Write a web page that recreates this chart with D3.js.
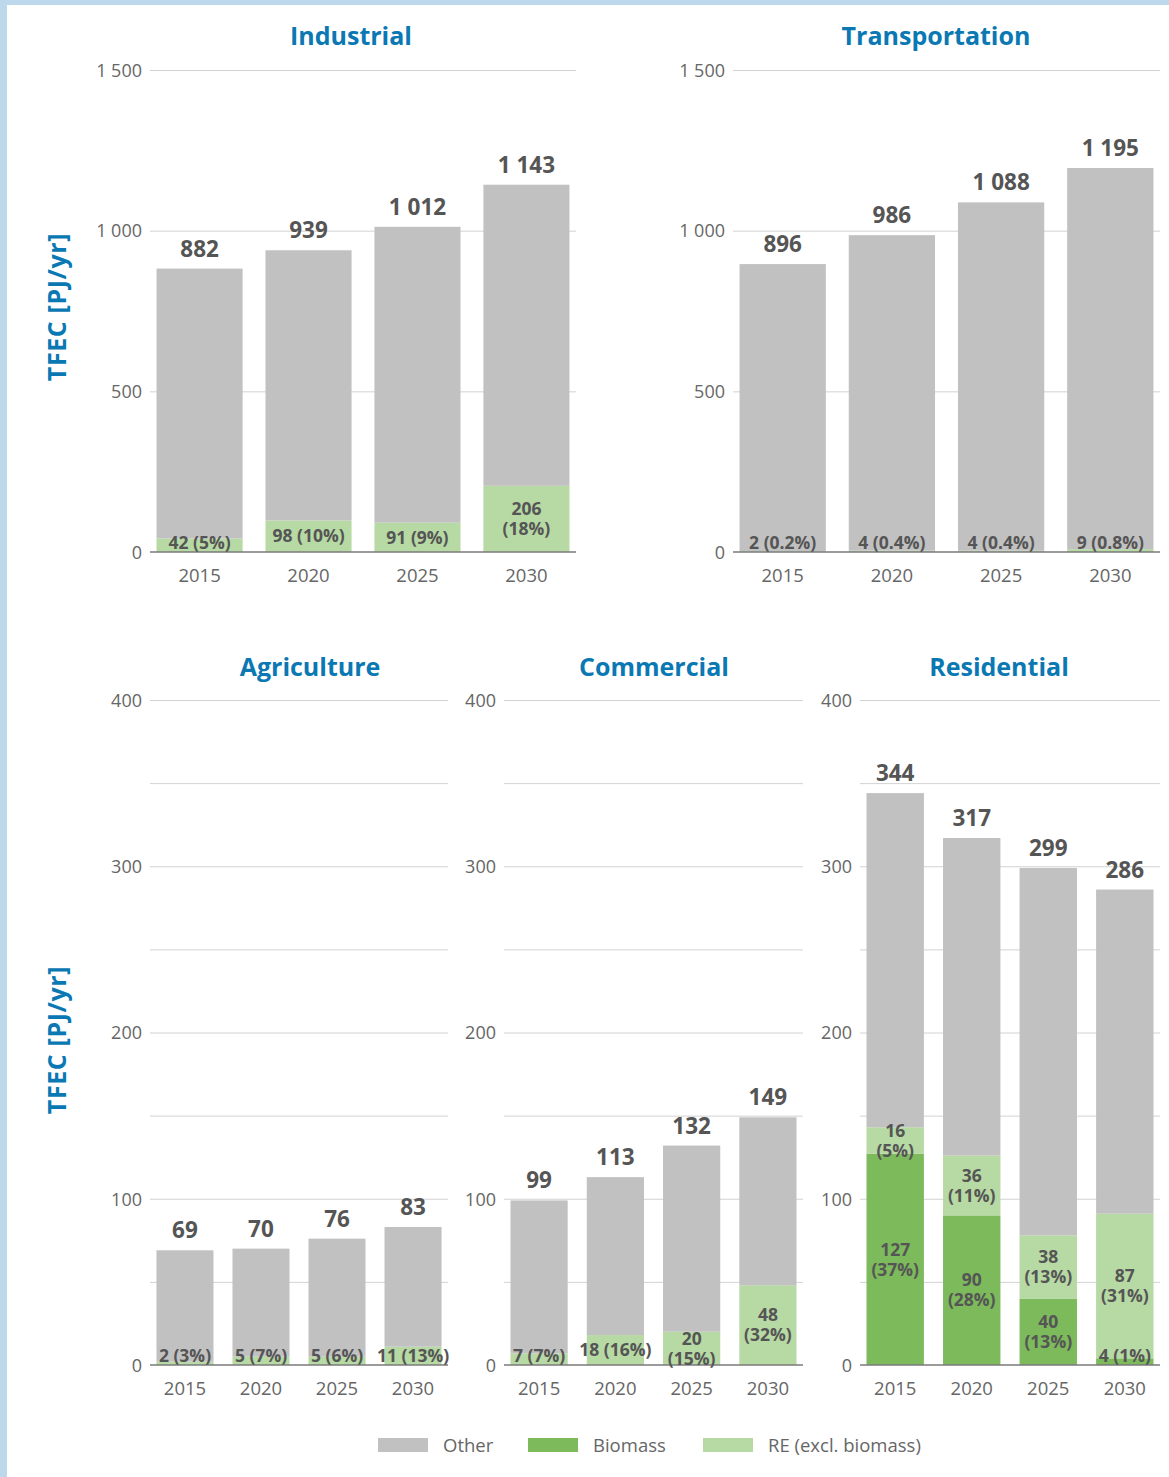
<!DOCTYPE html>
<html><head><meta charset="utf-8">
<script src="https://cdn.jsdelivr.net/npm/d3@7"></script>
<style>
html,body{margin:0;padding:0;background:#fff;}
svg{display:block;font-family:"Open Sans",sans-serif;}
</style></head>
<body>
<svg id="chart" width="1169" height="1477"></svg>
<script>
// ---------------- data ----------------
const years = ["2015", "2020", "2025", "2030"];

const industrialTotal = [882, 939, 1012, 1143];
const industrialRE = [42, 98, 91, 206];
const industrialREPct = ["5%", "10%", "9%", "18%"];

const transportTotal = [896, 986, 1088, 1195];
const transportRE = [2, 4, 4, 9];
const transportREPct = ["0.2%", "0.4%", "0.4%", "0.8%"];

const agricultureTotal = [69, 70, 76, 83];
const agricultureRE = [2, 5, 5, 11];
const agricultureREPct = ["3%", "7%", "6%", "13%"];

const commercialTotal = [99, 113, 132, 149];
const commercialRE = [7, 18, 20, 48];
const commercialREPct = ["7%", "16%", "15%", "32%"];

const residentialTotal = [344, 317, 299, 286];
const residentialBiomass = [127, 90, 40, 4];
const residentialBiomassPct = ["37%", "28%", "13%", "1%"];
const residentialRE = [16, 36, 38, 87];
const residentialREPct = ["5%", "11%", "13%", "31%"];

const topTicks = [0, 500, 1000, 1500];
const bottomTicks = [0, 100, 200, 300, 400];
const bottomGrid = [0, 50, 100, 150, 200, 250, 300, 350, 400];

const legendItems = ["Other", "Biomass", "RE (excl. biomass)"];

// ---------------- style ----------------
const COLORS = {"Other": "#c1c1c1", "Biomass": "#7cba5c", "RE (excl. biomass)": "#b7d9a4"};
const BLUE = "#0a78b3";

const fmt = v => { const s = String(v); return s.length > 3 ? s.slice(0, s.length - 3) + " " + s.slice(-3) : s; };

const svg = d3.select("#chart");

// frame
svg.append("rect").attr("x", 0).attr("y", 0).attr("width", 1169).attr("height", 5).attr("fill", "#bdd7eb");
svg.append("rect").attr("x", 0).attr("y", 0).attr("width", 7).attr("height", 1477).attr("fill", "#bdd7eb");

function panel(cfg) {
  const rows = years.map((y, i) => {
    const bio = cfg.biomass ? cfg.biomass[i] : 0;
    const re = cfg.re[i];
    return {year: y, "Biomass": bio, "RE (excl. biomass)": re, "Other": cfg.total[i] - bio - re,
            total: cfg.total[i], bioPct: cfg.biomassPct ? cfg.biomassPct[i] : null, rePct: cfg.rePct[i]};
  });
  const keys = ["Biomass", "RE (excl. biomass)", "Other"];
  const stack = d3.stack().keys(keys)(rows);

  const x = d3.scaleBand().domain(years).range([cfg.x0, cfg.x1]).paddingInner(cfg.pi).paddingOuter(cfg.po);
  const y = d3.scaleLinear().domain([0, cfg.max]).range([cfg.yb, cfg.yt]);
  const g = svg.append("g");

  // grid
  g.selectAll("line.grid").data(cfg.grid.filter(d => d !== 0)).join("line")
    .attr("x1", cfg.x0).attr("x2", cfg.x1)
    .attr("y1", d => y(d) + 0.5).attr("y2", d => y(d) + 0.5)
    .attr("stroke", "#d2d2d2").attr("stroke-width", 1);

  // y tick labels
  const yAxis = d3.axisLeft(y).tickValues(cfg.ticks).tickSize(0).tickPadding(0).tickFormat(fmt);
  const ya = g.append("g").attr("transform", `translate(${cfg.x0 - 8},0)`).call(yAxis);
  ya.select(".domain").remove();
  ya.selectAll("text").attr("font-size", 18).attr("fill", "#666").attr("font-family", "Open Sans").attr("dy", "0.35em");

  // bars
  g.selectAll("g.layer").data(stack).join("g")
    .attr("fill", d => COLORS[d.key])
    .selectAll("rect").data(d => d).join("rect")
    .attr("x", d => x(d.data.year)).attr("width", x.bandwidth())
    .attr("y", d => y(d[1])).attr("height", d => Math.max(0, y(d[0]) - y(d[1])));

  // baseline
  g.append("line").attr("x1", cfg.x0).attr("x2", cfg.x1)
    .attr("y1", y(0)).attr("y2", y(0)).attr("stroke", "#7a7a7a").attr("stroke-width", 1.5);

  // x axis
  const xAxis = d3.axisBottom(x).tickSize(0).tickPadding(0);
  const xa = g.append("g").attr("transform", `translate(0,${y(0)})`).call(xAxis);
  xa.select(".domain").remove();
  xa.selectAll("text").attr("font-size", 18.5).attr("fill", "#666").attr("font-family", "Open Sans").attr("dy", "1.6em");

  // segment labels
  const segs = [];
  stack.forEach(layer => {
    if (layer.key === "Other") return;
    layer.forEach(d => {
      const v = d[1] - d[0];
      if (v <= 0) return;
      const pct = layer.key === "Biomass" ? d.data.bioPct : d.data.rePct;
      segs.push({year: d.data.year, v, pct, y0: y(d[0]), y1: y(d[1]), bottom: d[0] === 0});
    });
  });
  segs.forEach(s => {
    const h = s.y0 - s.y1;
    const cx = x(s.year) + x.bandwidth() / 2;
    const c = (s.y0 + s.y1) / 2;
    const t = g.append("text").attr("text-anchor", "middle").attr("font-size", 17.5)
      .attr("font-weight", 700).attr("fill", "#555");
    if (s.bottom && h < 32) {
      const cy = Math.min(c, y(0) - 9);
      t.attr("x", cx).attr("y", cy).attr("dy", "0.35em").text(`${s.v} (${s.pct})`);
    } else {
      t.append("tspan").attr("x", cx).attr("y", c - 10).attr("dy", "0.35em").text(s.v);
      t.append("tspan").attr("x", cx).attr("y", c + 10).attr("dy", "0.35em").text(`(${s.pct})`);
    }
  });

  // totals
  g.selectAll("text.total").data(rows).join("text")
    .attr("text-anchor", "middle").attr("font-size", 22.5).attr("font-weight", 700).attr("fill", "#555")
    .attr("x", d => x(d.year) + x.bandwidth() / 2)
    .attr("y", d => y(d.total) - 12)
    .text(d => fmt(d.total));

  // title
  svg.append("text").attr("x", cfg.tx).attr("y", cfg.ty).attr("text-anchor", "middle")
    .attr("font-size", 25).attr("font-weight", 700).attr("fill", BLUE).text(cfg.title);
}

panel({title: "Industrial", tx: 351, ty: 45, total: industrialTotal, re: industrialRE, rePct: industrialREPct,
  x0: 150, x1: 576, pi: 0.21, po: 0.06, yt: 70, yb: 552, max: 1500, ticks: topTicks, grid: topTicks});
panel({title: "Transportation", tx: 936, ty: 45, total: transportTotal, re: transportRE, rePct: transportREPct,
  x0: 733, x1: 1160, pi: 0.21, po: 0.06, yt: 70, yb: 552, max: 1500, ticks: topTicks, grid: topTicks});
panel({title: "Agriculture", tx: 310, ty: 676, total: agricultureTotal, re: agricultureRE, rePct: agricultureREPct,
  x0: 150, x1: 448, pi: 0.25, po: 0.085, yt: 700, yb: 1365, max: 400, ticks: bottomTicks, grid: bottomGrid});
panel({title: "Commercial", tx: 654, ty: 676, total: commercialTotal, re: commercialRE, rePct: commercialREPct,
  x0: 504, x1: 803, pi: 0.25, po: 0.085, yt: 700, yb: 1365, max: 400, ticks: bottomTicks, grid: bottomGrid});
panel({title: "Residential", tx: 999, ty: 676, total: residentialTotal, re: residentialRE, rePct: residentialREPct,
  biomass: residentialBiomass, biomassPct: residentialBiomassPct,
  x0: 860, x1: 1160, pi: 0.25, po: 0.085, yt: 700, yb: 1365, max: 400, ticks: bottomTicks, grid: bottomGrid});

// y axis titles
[307, 1040].forEach(cy => {
  svg.append("text").attr("transform", `translate(66,${cy}) rotate(-90)`).attr("text-anchor", "middle")
    .attr("font-size", 25).attr("font-weight", 700).attr("letter-spacing", 0.6).attr("fill", BLUE).text("TFEC [PJ/yr]");
});

// legend
const legX = [378, 528, 703];
const lg = svg.append("g");
legendItems.forEach((k, i) => {
  lg.append("rect").attr("x", legX[i]).attr("y", 1438).attr("width", 50).attr("height", 14).attr("fill", COLORS[k]);
  lg.append("text").attr("x", legX[i] + 65).attr("y", 1452).attr("font-size", 18.5).attr("fill", "#666").text(k);
});
</script>
</body></html>
